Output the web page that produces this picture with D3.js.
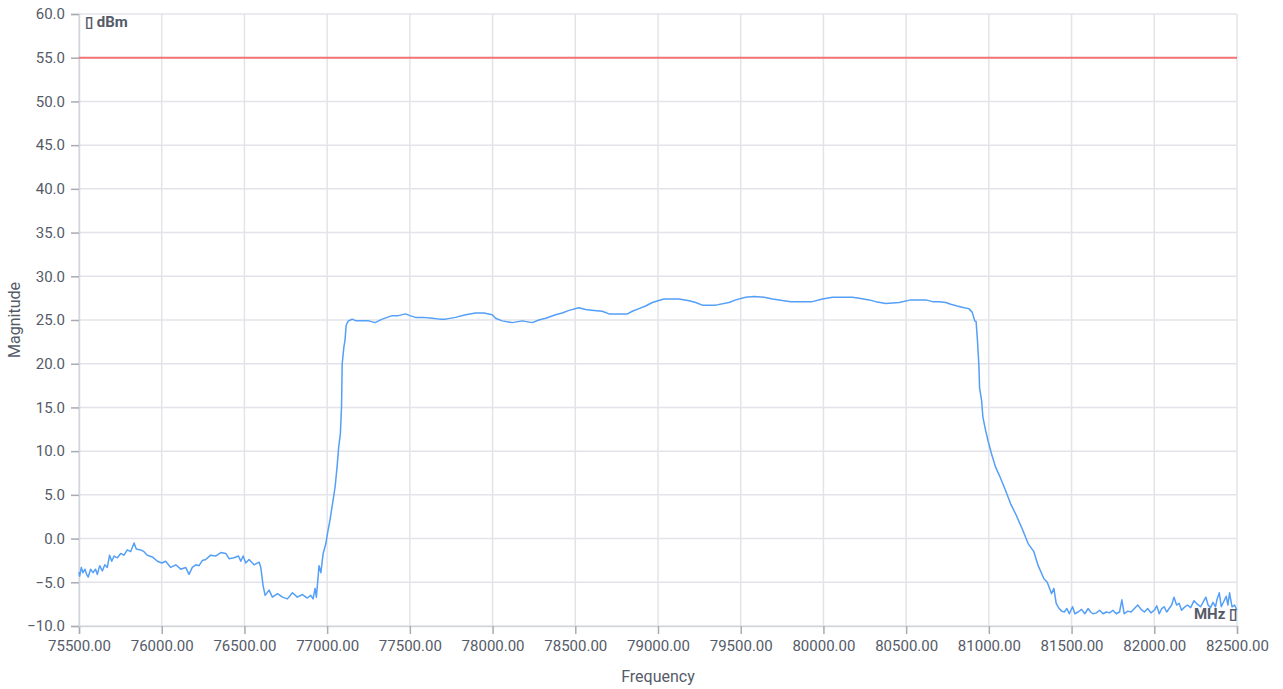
<!DOCTYPE html>
<html>
<head>
<meta charset="utf-8">
<script src="https://cdn.jsdelivr.net/npm/d3@7"></script>
<style>
  html, body { margin: 0; padding: 0; background: #ffffff; }
  svg { display: block; font-family: Roboto, "Noto Sans", sans-serif; }
</style>
</head>
<body>
<svg id="chart" width="1283" height="689"></svg>
<script>
// ---- data ----
const freqTicks = [75500, 76000, 76500, 77000, 77500, 78000, 78500, 79000, 79500, 80000, 80500, 81000, 81500, 82000, 82500];
const magTicks = [-10, -5, 0, 5, 10, 15, 20, 25, 30, 35, 40, 45, 50, 55, 60];
const limitValue = [55];
const yUnit = "\u25AF dBm";
const xUnit = "MHz \u25AF";

const frequency = [
  75500, 75504, 75514, 75524, 75536, 75546, 75556, 75570, 75585, 75600, 75611, 75625, 75641, 75656, 75671, 75685, 75698,
  75712, 75732, 75752, 75772, 75792, 75812, 75833, 75846, 75873, 75893, 75913, 75943, 75974, 76000, 76024, 76054, 76085,
  76115, 76145, 76165, 76185, 76206, 76226, 76246, 76266, 76296, 76326, 76357, 76387, 76407, 76437, 76464, 76478, 76492,
  76508, 76528, 76558, 76589, 76599, 76613, 76625, 76649, 76669, 76700, 76730, 76760, 76790, 76820, 76851, 76880, 76901,
  76915, 76927, 76935, 76951, 76962, 76976, 76992, 77004, 77016, 77026, 77036, 77048, 77060, 77070, 77080, 77087, 77091,
  77101, 77108, 77115, 77128, 77141, 77151, 77175, 77210, 77252, 77290, 77333, 77363, 77393, 77430, 77474, 77500, 77534,
  77580, 77635, 77680, 77716, 77776, 77837, 77897, 77948, 77998, 78018, 78058, 78119, 78179, 78240, 78280, 78321, 78381,
  78421, 78462, 78522, 78562, 78613, 78663, 78704, 78760, 78815, 78845, 78885, 78925, 78966, 79000, 79036, 79080, 79127,
  79188, 79228, 79268, 79349, 79429, 79470, 79530, 79581, 79641, 79692, 79732, 79802, 79870, 79933, 79994, 80054, 80120,
  80175, 80216, 80276, 80317, 80377, 80458, 80528, 80575, 80619, 80659, 80700, 80740, 80770, 80808, 80850, 80879, 80899,
  80915, 80923, 80931, 80940, 80944, 80956, 80964, 80980, 80996, 81016, 81040, 81071, 81101, 81131, 81165, 81202, 81238,
  81272, 81298, 81333, 81353, 81379, 81393, 81407, 81425, 81440, 81456, 81472, 81486, 81506, 81520, 81540, 81560, 81580,
  81600, 81615, 81630, 81650, 81670, 81690, 81710, 81730, 81750, 81770, 81790, 81804, 81818, 81840, 81860, 81880, 81900,
  81920, 81940, 81960, 81980, 82000, 82015, 82030, 82045, 82060, 82075, 82090, 82105, 82119, 82135, 82150, 82165, 82180,
  82200, 82220, 82240, 82260, 82280, 82300, 82312, 82325, 82340, 82355, 82370, 82380, 82393, 82405, 82420, 82435, 82445,
  82455, 82470, 82485, 82500
];

const magnitude = [
  -3.8, -4.3, -3.3, -3.9, -3.5, -4.1, -4.4, -3.5, -3.9, -3.5, -4.1, -3.1, -3.7, -3.0, -3.3, -1.9, -2.6,
  -2.0, -2.2, -1.7, -1.9, -1.3, -1.5, -0.5, -1.2, -1.3, -1.5, -1.9, -2.1, -2.6, -2.8, -2.6, -3.3, -3.0,
  -3.5, -3.3, -4.1, -3.3, -3.0, -3.1, -2.5, -2.4, -1.9, -2.0, -1.6, -1.7, -2.3, -2.2, -2.0, -2.6, -2.0,
  -2.8, -2.4, -3.0, -2.7, -3.3, -5.4, -6.5, -5.9, -6.7, -6.3, -6.7, -6.9, -6.2, -6.7, -6.4, -6.8, -6.5,
  -6.9, -5.7, -6.7, -3.1, -3.9, -1.7, -0.6, 0.8, 2.0, 3.2, 4.4, 5.9, 8.2, 10.5, 12.0, 15.1, 20.0,
  21.9, 22.7, 24.4, 24.9, 25.0, 25.1, 24.9, 24.9, 24.9, 24.7, 25.1, 25.3, 25.5, 25.5, 25.7, 25.5, 25.3,
  25.3, 25.2, 25.1, 25.1, 25.3, 25.6, 25.8, 25.8, 25.6, 25.2, 24.9, 24.7, 24.9, 24.7, 25.0, 25.2, 25.6,
  25.8, 26.1, 26.4, 26.2, 26.1, 26.0, 25.7, 25.7, 25.7, 26.0, 26.3, 26.6, 27.0, 27.2, 27.4, 27.4, 27.4,
  27.2, 27.0, 26.7, 26.7, 27.0, 27.3, 27.6, 27.7, 27.6, 27.4, 27.3, 27.1, 27.1, 27.1, 27.4, 27.6, 27.6,
  27.6, 27.5, 27.3, 27.1, 26.9, 27.0, 27.3, 27.3, 27.3, 27.1, 27.1, 27.0, 26.8, 26.6, 26.4, 26.3, 25.9,
  24.9, 24.8, 22.7, 19.7, 17.2, 15.8, 13.9, 12.4, 11.1, 9.7, 8.2, 6.9, 5.5, 4.0, 2.7, 1.1, -0.6,
  -1.5, -3.1, -4.6, -5.0, -6.3, -5.7, -7.4, -8.0, -8.3, -8.4, -8.0, -8.6, -7.8, -8.6, -8.4, -8.1, -8.6,
  -8.0, -8.4, -8.6, -8.5, -8.2, -8.6, -8.4, -8.5, -8.2, -8.6, -8.4, -7.0, -8.6, -8.3, -8.4, -8.0, -7.6,
  -8.1, -8.4, -8.0, -8.5, -8.2, -7.7, -8.6, -8.0, -7.8, -8.4, -8.0, -7.6, -6.7, -7.6, -7.4, -8.2, -7.9,
  -7.6, -7.9, -7.1, -7.5, -7.8, -7.1, -6.7, -7.6, -7.9, -7.3, -7.8, -6.9, -6.2, -7.8, -7.2, -6.6, -7.6,
  -6.2, -7.8, -7.6, -8.2
];

// ---- chart ----
const W = 1283, H = 689;
const margin = { top: 14, right: 46, bottom: 63, left: 79 };
const iw = W - margin.left - margin.right;
const ih = H - margin.top - margin.bottom;

const svg = d3.select("#chart");
const g = svg.append("g").attr("transform", `translate(${margin.left},${margin.top})`);

const x = d3.scaleLinear().domain([75500, 82500]).range([0, iw]);
const y = d3.scaleLinear().domain([-10, 60]).range([ih, 0]);

const gridColor = "#e3e4e9";
const textColor = "#555b69";

// grid
g.append("g").selectAll("line").data(magTicks).join("line")
  .attr("x1", 0).attr("x2", iw)
  .attr("y1", d => y(d)).attr("y2", d => y(d))
  .attr("stroke", gridColor).attr("stroke-width", 1.5);
g.append("g").selectAll("line").data(freqTicks).join("line")
  .attr("y1", 0).attr("y2", ih)
  .attr("x1", d => x(d)).attr("x2", d => x(d))
  .attr("stroke", gridColor).attr("stroke-width", 1.5);

// axes
const xAxis = g.append("g").attr("transform", `translate(0,${ih})`)
  .call(d3.axisBottom(x).tickValues(freqTicks).tickFormat(d3.format(".2f")).tickSize(8).tickPadding(6));
const yAxis = g.append("g")
  .call(d3.axisLeft(y).tickValues(magTicks).tickFormat(d3.format(".1f")).tickSize(8).tickPadding(6));

[xAxis, yAxis].forEach(a => {
  a.select(".domain").attr("stroke", "#d4d6dc").attr("stroke-width", 1.5);
  a.selectAll(".tick line").attr("stroke", "#a7abb3").attr("stroke-width", 1.5);
  a.selectAll(".tick text").attr("fill", textColor).style("font-size", "15px")
    .style("font-family", "Roboto, sans-serif");
});

// limit line
g.append("g").selectAll("line").data(limitValue).join("line")
  .attr("x1", 0).attr("x2", iw)
  .attr("y1", d => y(d)).attr("y2", d => y(d))
  .attr("stroke", "#f47374").attr("stroke-width", 2);

// data line
const pts = frequency.map((f, i) => [f, magnitude[i]]);
g.append("path")
  .datum(pts)
  .attr("fill", "none")
  .attr("stroke", "#549ff7")
  .attr("stroke-width", 1.5)
  .attr("stroke-linejoin", "round")
  .attr("d", d3.line().x(d => x(d[0])).y(d => y(d[1])));

// unit labels
g.append("text")
  .attr("x", 6).attr("y", 13)
  .attr("fill", textColor)
  .style("font-size", "15px").style("font-weight", "bold")
  .text(yUnit);
g.append("text")
  .attr("x", iw).attr("y", ih - 7)
  .attr("text-anchor", "end")
  .attr("fill", textColor)
  .style("font-size", "15px").style("font-weight", "bold")
  .text(xUnit);

// axis titles
svg.append("text")
  .attr("x", margin.left + iw / 2).attr("y", 682)
  .attr("text-anchor", "middle")
  .attr("fill", textColor)
  .style("font-size", "16px")
  .text("Frequency");
svg.append("text")
  .attr("transform", `translate(20,${margin.top + ih / 2}) rotate(-90)`)
  .attr("text-anchor", "middle")
  .attr("fill", textColor)
  .style("font-size", "16px")
  .text("Magnitude");
</script>
</body>
</html>
